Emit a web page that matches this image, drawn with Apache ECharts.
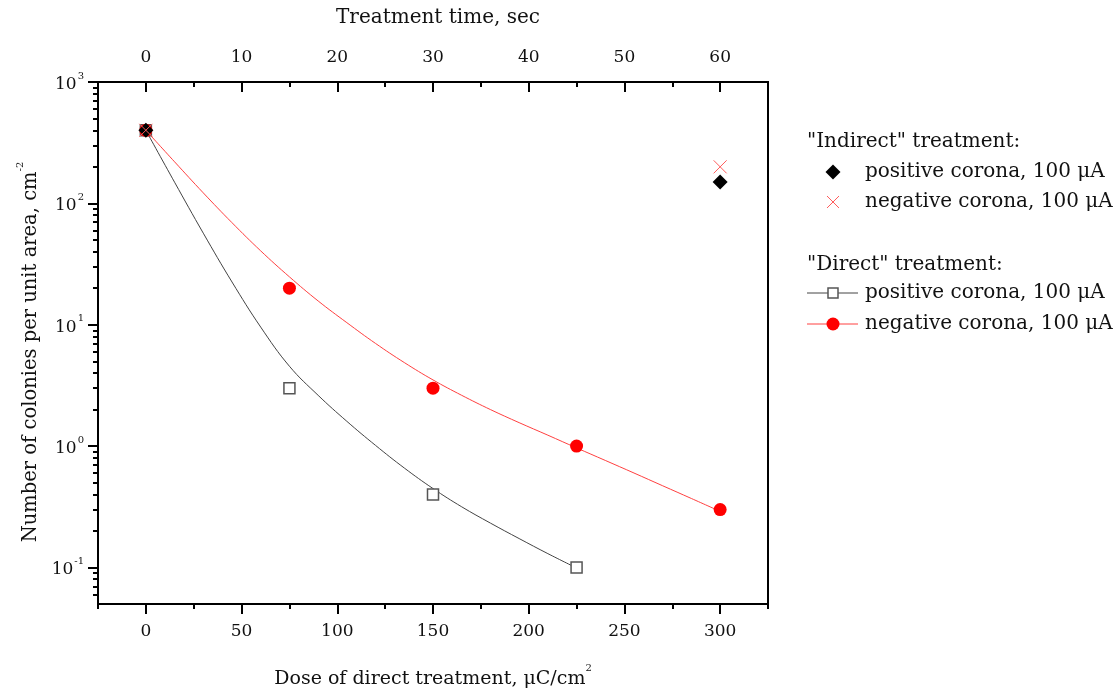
<!DOCTYPE html>
<html>
<head>
<meta charset="utf-8">
<script src="https://cdn.jsdelivr.net/npm/echarts@6/dist/echarts.min.js"></script>
<style>
  html, body { margin: 0; padding: 0; background: #fff; }
  #chart { width: 1119px; height: 698px; }
</style>
</head>
<body>
<div id="chart"></div>
<script>
// Measured points (colonies per cm^2 vs. dose of direct treatment, uC/cm^2)
const directDose = [0, 75, 150, 225, 300];
const directPositive = [400, 3, 0.4, 0.1];
const directNegative = [400, 20, 3, 1, 0.3];

const indirectDose = [0, 300];
const indirectPositive = [400, 150];
const indirectNegative = [400, 200];

// Fitted curves through the direct-treatment points
const fitDose = [0, 15, 30, 45, 60, 75, 90, 105, 120, 135, 150, 165, 180, 195, 210, 225, 240, 255, 270, 285, 300];
const fitPositive = [400, 149.4, 56.8, 22.5, 9.56, 4.55, 2.62, 1.60, 1.013, 0.660, 0.447, 0.316, 0.232, 0.173, 0.130, 0.099];
const fitNegative = [400, 220, 122, 69.3, 40.6, 24.8, 15.7, 10.4, 7.01, 4.88, 3.51, 2.62, 2.0, 1.56, 1.23, 0.966, 0.762, 0.6, 0.471, 0.37, 0.29];

// Axis ticks
const doseTicks = [0, 50, 100, 150, 200, 250, 300];
const doseMinorTicks = [-25, 25, 75, 125, 175, 225, 275, 325];
const timeTicks = [0, 10, 20, 30, 40, 50, 60];
const timeMinorTicks = [5, 15, 25, 35, 45, 55];
const yTicks = [0.1, 1, 10, 100, 1000];
const yMinorTicks = [0.06, 0.07, 0.08, 0.09,
  0.2, 0.3, 0.4, 0.5, 0.6, 0.7, 0.8, 0.9,
  2, 3, 4, 5, 6, 7, 8, 9,
  20, 30, 40, 50, 60, 70, 80, 90,
  200, 300, 400, 500, 600, 700, 800, 900];

const FONT = '"DejaVu Serif", "Liberation Serif", serif';
const INK = '#111';

const pairs = (xs, ys) => ys.map((y, i) => [xs[i], y]);

const chart = echarts.init(document.getElementById('chart'), null, { renderer: 'canvas' });

const baseX = { type: 'value', min: -25, max: 325, splitLine: { show: false } };
const baseY = { type: 'log', logBase: 10, min: 0.05, max: 1000, splitLine: { show: false } };
const tickLine = { color: '#000', width: 2 };

// Static texts: axis titles and the two-part legend
const txt = (x, y, text, extra) => ({
  type: 'text', x, y, z: 10,
  style: Object.assign({ text, font: '20px ' + FONT, fill: INK, verticalAlign: 'middle' }, extra || {})
});
const supRich = size => ({
  t: { fontSize: size, fontFamily: FONT, fill: INK, lineHeight: 26, verticalAlign: 'bottom' },
  s: { fontSize: 10, fontFamily: FONT, fill: INK, lineHeight: 26, verticalAlign: 'top' }
});

const graphics = [
  txt(438, 18, 'Treatment time, sec', { align: 'center' }),
  txt(433, 676, '{t|Dose of direct treatment, μC/cm}{s|2}', { align: 'center', rich: supRich(19) }),
  Object.assign(txt(28, 352, '{t|Number of colonies per unit area, cm}{s|-2}', { align: 'center', rich: supRich(19.5) }),
    { rotation: Math.PI / 2 }),

  txt(807, 142, '"Indirect" treatment:'),
  { type: 'polygon', shape: { points: [[833, 164.5], [840.5, 172], [833, 179.5], [825.5, 172]] }, style: { fill: '#000' } },
  txt(865, 172, 'positive corona, 100 μA'),
  { type: 'line', shape: { x1: 827, y1: 196, x2: 839, y2: 208 }, style: { stroke: '#ff5c5c', lineWidth: 1 } },
  { type: 'line', shape: { x1: 839, y1: 196, x2: 827, y2: 208 }, style: { stroke: '#ff5c5c', lineWidth: 1 } },
  txt(865, 202, 'negative corona, 100 μA'),

  txt(807, 265, '"Direct" treatment:'),
  { type: 'line', shape: { x1: 807, y1: 293, x2: 858, y2: 293 }, style: { stroke: '#444', lineWidth: 1 } },
  { type: 'rect', shape: { x: 828, y: 288, width: 10, height: 10 }, style: { fill: '#fff', stroke: '#555', lineWidth: 1.5 }, z: 2 },
  txt(865, 293, 'positive corona, 100 μA'),
  { type: 'line', shape: { x1: 807, y1: 324, x2: 858, y2: 324 }, style: { stroke: '#ff4040', lineWidth: 1 } },
  { type: 'circle', shape: { cx: 833, cy: 324, r: 6.5 }, style: { fill: '#ff0000' }, z: 2 },
  txt(865, 324, 'negative corona, 100 μA')
];

chart.setOption({
  animation: false,
  backgroundColor: '#fff',
  textStyle: { fontFamily: FONT, color: INK },
  grid: {
    left: 98, right: 351, top: 82, bottom: 94,
    containLabel: false, outerBoundsMode: 'none',
    show: true, borderColor: '#000', borderWidth: 2, backgroundColor: 'transparent'
  },
  xAxis: [
    Object.assign({}, baseX, {
      position: 'bottom',
      axisLine: { show: true, onZero: false, lineStyle: tickLine },
      axisTick: { show: true, customValues: doseTicks, length: 10, lineStyle: tickLine },
      axisLabel: { customValues: doseTicks, margin: 19, fontSize: 17, fontFamily: FONT, color: INK }
    }),
    Object.assign({}, baseX, {
      position: 'bottom',
      axisLine: { show: false, onZero: false },
      axisTick: { show: true, customValues: doseMinorTicks, length: 5, lineStyle: tickLine },
      axisLabel: { show: false }
    }),
    {
      type: 'value', min: -5, max: 65, position: 'top', splitLine: { show: false },
      axisLine: { show: true, onZero: false, lineStyle: tickLine },
      axisTick: { show: true, inside: true, customValues: timeTicks, length: 10, lineStyle: tickLine },
      axisLabel: { customValues: timeTicks, margin: 16, fontSize: 17, fontFamily: FONT, color: INK }
    },
    {
      type: 'value', min: -5, max: 65, position: 'top', splitLine: { show: false },
      axisLine: { show: false, onZero: false },
      axisTick: { show: true, inside: true, customValues: timeMinorTicks, length: 5, lineStyle: tickLine },
      axisLabel: { show: false }
    }
  ],
  yAxis: [
    Object.assign({}, baseY, {
      position: 'left',
      axisLine: { show: true, onZero: false, lineStyle: tickLine },
      axisTick: { show: true, customValues: yTicks, length: 10, lineStyle: tickLine },
      axisLabel: {
        customValues: yTicks, margin: 14, fontFamily: FONT,
        formatter: v => '{b|10}{s|' + Math.round(Math.log10(v)) + '}',
        rich: {
          b: { fontSize: 17, fontFamily: FONT, color: INK, lineHeight: 22, verticalAlign: 'bottom' },
          s: { fontSize: 10, fontFamily: FONT, color: INK, lineHeight: 22, verticalAlign: 'top', padding: [0, 0, 0, 1] }
        }
      }
    }),
    Object.assign({}, baseY, {
      position: 'left',
      axisLine: { show: false, onZero: false },
      axisTick: { show: true, customValues: yMinorTicks, length: 5, lineStyle: tickLine },
      axisLabel: { show: false }
    })
  ],
  series: [
    {
      name: 'fit positive', type: 'line', smooth: 0.4, symbol: 'none', silent: true, z: 2,
      lineStyle: { color: '#444', width: 1 },
      data: pairs(fitDose, fitPositive)
    },
    {
      name: 'fit negative', type: 'line', smooth: 0.4, symbol: 'none', silent: true, z: 2,
      lineStyle: { color: '#ff4040', width: 1 },
      data: pairs(fitDose, fitNegative)
    },
    {
      name: 'direct positive', type: 'scatter', symbol: 'rect', symbolSize: 11, z: 3,
      itemStyle: { color: '#fff', borderColor: '#555', borderWidth: 1.5, opacity: 1 },
      data: pairs(directDose, directPositive)
    },
    {
      name: 'direct negative', type: 'scatter', symbol: 'circle', symbolSize: 13, z: 3,
      itemStyle: { color: '#ff0000', opacity: 1 },
      data: pairs(directDose, directNegative)
    },
    {
      name: 'indirect positive', type: 'scatter', symbol: 'diamond', symbolSize: [15, 15], z: 4,
      itemStyle: { color: '#000', opacity: 1 },
      data: pairs(indirectDose, indirectPositive)
    },
    {
      name: 'indirect negative', type: 'scatter', symbol: 'path://M0,0L10,10M10,0L0,10', symbolSize: 13, z: 5,
      itemStyle: { color: 'none', borderColor: '#ff5c5c', borderWidth: 1, opacity: 1 },
      data: pairs(indirectDose, indirectNegative)
    }
  ],
  graphic: graphics
});
</script>
</body>
</html>
